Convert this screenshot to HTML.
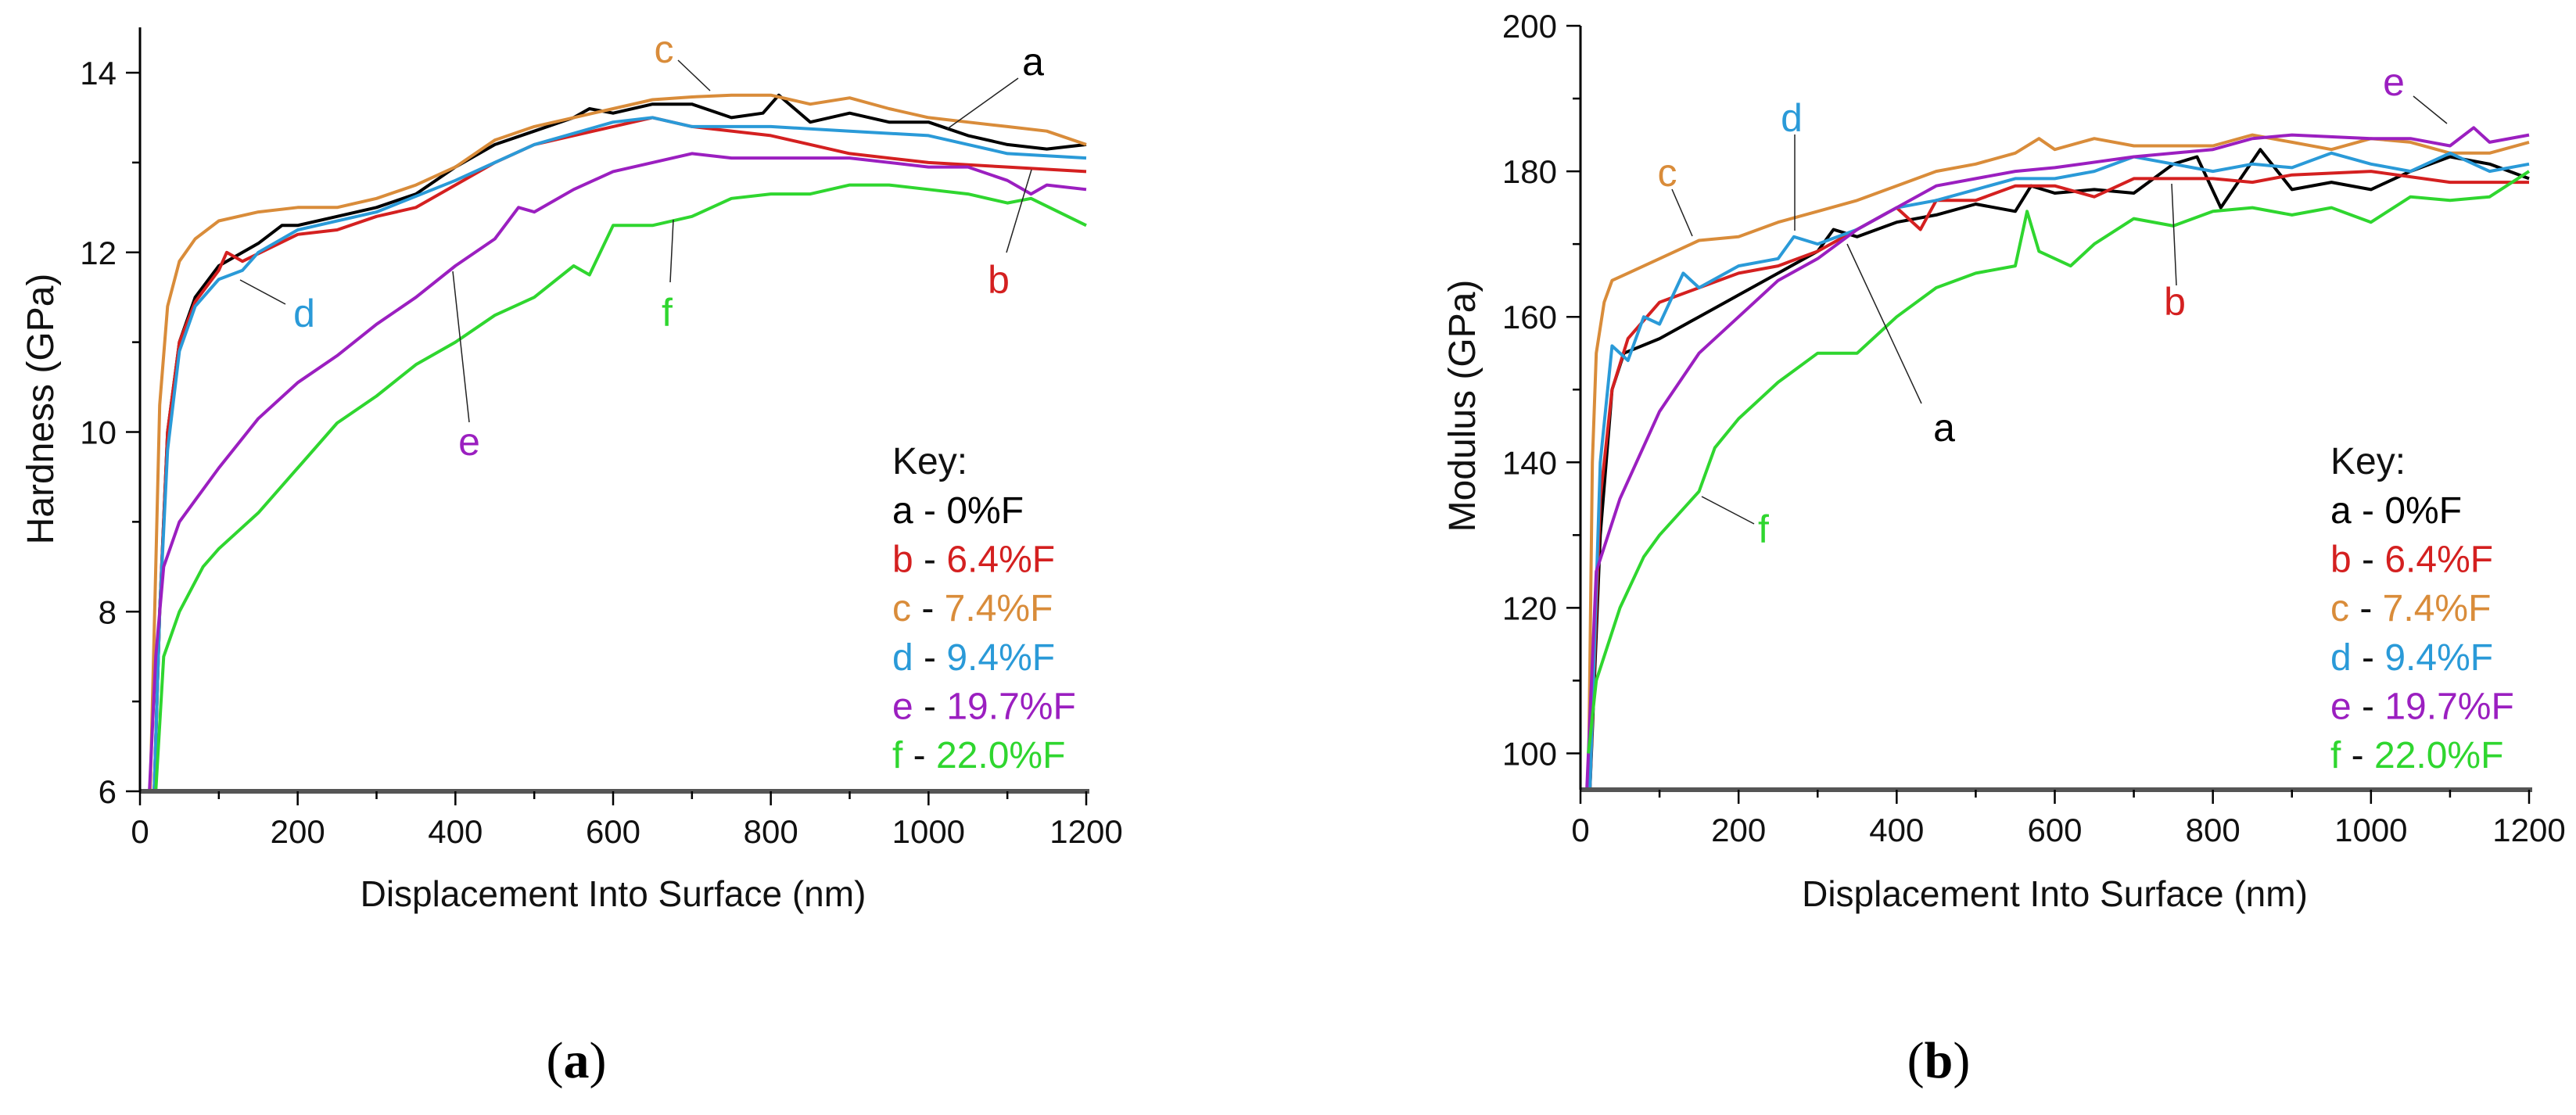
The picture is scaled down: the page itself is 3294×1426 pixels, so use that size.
<!DOCTYPE html>
<html><head><meta charset="utf-8"><style>
html,body{margin:0;padding:0;background:#fff;}
svg{display:block;font-family:"Liberation Sans",Arial,sans-serif;}
</style></head><body>
<svg id="fig" width="3294" height="1426" viewBox="0 0 3294 1426" xmlns="http://www.w3.org/2000/svg">
<rect width="3294" height="1426" fill="#fff"/>
<g id="chartA"></g>
<g id="chartB"></g>
<text x="737" y="1378" font-family="Liberation Serif,serif" font-size="66" text-anchor="middle">(<tspan font-weight="bold">a</tspan>)</text>
<text x="2479" y="1378" font-family="Liberation Serif,serif" font-size="66" text-anchor="middle">(<tspan font-weight="bold">b</tspan>)</text>
</svg>
<script>
const seriesNames = ['a','b','c','d','e','f'];
const seriesColors = ['#000000','#d42020','#d98c3a','#2a9ad8','#9b1fc0','#2fd62f'];
const legendLabels = ['a - 0%F','b - 6.4%F','c - 7.4%F','d - 9.4%F','e - 19.7%F','f - 22.0%F'];
const legendValues = ['0%F','6.4%F','7.4%F','9.4%F','19.7%F','22.0%F'];
const xTicks = [0,200,400,600,800,1000,1200];
const hTicks = [6,8,10,12,14];
const mTicks = [100,120,140,160,180,200];

const hA = [[18,6],[25,8],[35,10],[50,11],[70,11.5],[100,11.85],[150,12.1],[180,12.3],[200,12.3],[250,12.4],[300,12.5],[350,12.65],[400,12.95],[450,13.2],[500,13.35],[550,13.5],[570,13.6],[600,13.55],[650,13.65],[700,13.65],[750,13.5],[790,13.55],[810,13.75],[850,13.45],[900,13.55],[950,13.45],[1000,13.45],[1050,13.3],[1100,13.2],[1150,13.15],[1200,13.2]];
const hB = [[18,6],[25,8],[35,10],[50,11],[70,11.45],[100,11.8],[110,12.0],[130,11.9],[200,12.2],[250,12.25],[300,12.4],[350,12.5],[400,12.75],[450,13.0],[500,13.2],[550,13.3],[600,13.4],[650,13.5],[700,13.4],[800,13.3],[900,13.1],[1000,13.0],[1100,12.95],[1200,12.9]];
const hC = [[13,6],[20,8.5],[25,10.3],[35,11.4],[50,11.9],[70,12.15],[100,12.35],[150,12.45],[200,12.5],[250,12.5],[300,12.6],[350,12.75],[400,12.95],[450,13.25],[500,13.4],[550,13.5],[600,13.6],[650,13.7],[700,13.73],[750,13.75],[800,13.75],[850,13.65],[900,13.72],[950,13.6],[1000,13.5],[1050,13.45],[1100,13.4],[1150,13.35],[1200,13.2]];
const hD = [[18,6],[25,8],[35,9.8],[50,10.9],[70,11.4],[100,11.7],[130,11.8],[150,12.0],[200,12.25],[300,12.45],[400,12.8],[500,13.2],[600,13.45],[650,13.5],[700,13.4],[800,13.4],[900,13.35],[1000,13.3],[1100,13.1],[1200,13.05]];
const hE = [[12,6],[20,7.5],[30,8.5],[50,9.0],[75,9.3],[100,9.6],[150,10.15],[200,10.55],[250,10.85],[300,11.2],[350,11.5],[400,11.85],[450,12.15],[480,12.5],[500,12.45],[550,12.7],[600,12.9],[650,13.0],[700,13.1],[750,13.05],[800,13.05],[900,13.05],[1000,12.95],[1050,12.95],[1100,12.8],[1130,12.65],[1150,12.75],[1200,12.7]];
const hF = [[20,6],[30,7.5],[50,8.0],[80,8.5],[100,8.7],[150,9.1],[200,9.6],[250,10.1],[300,10.4],[350,10.75],[400,11.0],[450,11.3],[500,11.5],[550,11.85],[570,11.75],[600,12.3],[650,12.3],[700,12.4],[750,12.6],[800,12.65],[850,12.65],[900,12.75],[950,12.75],[1000,12.7],[1050,12.65],[1100,12.55],[1130,12.6],[1200,12.3]];

const mA = [[12,95],[25,130],[40,150],[55,155],[100,157],[150,160],[200,163],[250,166],[300,169],[320,172],[350,171],[400,173],[450,174],[500,175.5],[550,174.5],[570,178],[600,177],[650,177.5],[700,177],[750,181],[780,182],[810,175],[860,183],[900,177.5],[950,178.5],[1000,177.5],[1050,180],[1100,182],[1150,181],[1200,179]];
const mB = [[12,95],[25,135],[40,150],[60,157],[100,162],[150,164],[200,166],[250,167],[300,169],[350,172],[400,175],[430,172],[450,176],[500,176],[550,178],[600,178],[650,176.5],[700,179],[800,179],[850,178.5],[900,179.5],[1000,180],[1100,178.5],[1200,178.5]];
const mC = [[10,95],[15,140],[20,155],[30,162],[40,165],[60,166],[100,168],[150,170.5],[200,171],[250,173],[300,174.5],[350,176],[400,178],[450,180],[500,181],[550,182.5],[580,184.5],[600,183],[650,184.5],[700,183.5],[800,183.5],[850,185],[900,184],[950,183],[1000,184.5],[1050,184],[1100,182.5],[1150,182.5],[1200,184]];
const mD = [[12,95],[25,140],[40,156],[60,154],[80,160],[100,159],[130,166],[150,164],[200,167],[250,168],[270,171],[300,170],[350,172],[400,175],[450,176],[500,177.5],[550,179],[600,179],[650,180],[700,182],[750,181],[800,180],[850,181],[900,180.5],[950,182.5],[1000,181],[1050,180],[1100,182.5],[1150,180],[1200,181]];
const mE = [[8,95],[20,125],[50,135],[100,147],[150,155],[200,160],[250,165],[300,168],[350,172],[400,175],[450,178],[500,179],[550,180],[600,180.5],[700,182],[800,183],[850,184.5],[900,185],[1000,184.5],[1050,184.5],[1100,183.5],[1130,186],[1150,184],[1200,185]];
const mF = [[10,100],[20,110],[50,120],[80,127],[100,130],[150,136],[170,142],[200,146],[250,151],[300,155],[350,155],[400,160],[450,164],[500,166],[550,167],[565,174.5],[580,169],[620,167],[650,170],[700,173.5],[750,172.5],[800,174.5],[850,175],[900,174],[950,175],[1000,173],[1050,176.5],[1100,176],[1150,176.5],[1200,180]];

const NS='http://www.w3.org/2000/svg';
function mk(tag, attrs, parent){const e=document.createElementNS(NS,tag);for(const k in attrs)e.setAttribute(k,attrs[k]);parent.appendChild(e);return e;}

function drawChart(g, cfg){
  const xS = v => cfg.x0 + (v - 0)/1200*(cfg.x1-cfg.x0);
  const yS = v => cfg.yb - (v - cfg.ymin)/(cfg.ymax-cfg.ymin)*(cfg.yb-cfg.yt);
  cfg.series.forEach((s,i)=>{
    const d = s.map((p,j)=>(j?'L':'M')+xS(p[0]).toFixed(1)+','+yS(Math.max(p[1],cfg.ymin)).toFixed(1)).join(' ');
    const p = mk('path',{d:d,fill:'none',stroke:seriesColors[i],'stroke-width':4,'stroke-linejoin':'round'},g);
    
    
  });
  const ax = mk('line',{x1:cfg.x0,y1:cfg.yb,x2:cfg.x1+4,y2:cfg.yb,stroke:'#555'},g);
  ax.setAttribute('stroke-width','6');
  
  
  const ay = mk('line',{x1:cfg.x0,y1:cfg.yb,x2:cfg.x0,y2:cfg.axTop,stroke:'#000'},g);
  ay.setAttribute('stroke-width','3');
  
  
  for(let v=0; v<=1200; v+=100){
    const major = v%200===0;
    const t = mk('line',{x1:xS(v),x2:xS(v),y1:cfg.yb,y2:cfg.yb+(major?18:10),stroke:'#000','stroke-width':2.5},g);
    
    
  }
  xTicks.forEach(v=>{
    const t = mk('text',{x:xS(v),y:cfg.yb+66,'font-size':42,'text-anchor':'middle',fill:'#111'},g);
    t.textContent = v;
    
    
  });
  for(let v=cfg.ymin0; v<=cfg.ymax0; v+=cfg.minor){
    const major = Math.abs((v-cfg.ymin0)%cfg.major)<1e-6;
    const t = mk('line',{x1:cfg.x0-(major?18:10),x2:cfg.x0,y1:yS(v),y2:yS(v),stroke:'#000','stroke-width':2.5},g);
    
    
  }
  cfg.ticks.forEach(v=>{
    const t = mk('text',{x:cfg.x0-30,y:yS(v)+15,'font-size':42,'text-anchor':'end',fill:'#111'},g);
    t.textContent = v;
    
    
  });
  const xt = mk('text',{x:(cfg.x0+cfg.x1)/2,y:1159,'font-size':46,'text-anchor':'middle',fill:'#111'},g);
  xt.textContent='Displacement Into Surface (nm)';
  
  
  const yt = mk('text',{x:0,y:0,'font-size':48,'text-anchor':'middle',fill:'#111',transform:'translate('+cfg.ytx+','+cfg.yty+') rotate(-90)'},g);
  yt.textContent=cfg.ytitle;
  
  
  cfg.ann.forEach((a,i)=>{
    const l = mk('line',{x1:a[3],y1:a[4],x2:a[5],y2:a[6],stroke:'#222','stroke-width':1.5},g);
    
    
    const t = mk('text',{x:a[1],y:a[2]+17,'font-size':50,'text-anchor':'middle',fill:seriesColors[seriesNames.indexOf(a[0])]},g);
    t.textContent=a[0];
    
    
  });
  const kt = mk('text',{x:cfg.lx,y:589+17,'font-size':48,fill:'#111'},g);
  kt.textContent='Key:';
  
  
  legendLabels.forEach((lab,i)=>{
    const t = mk('text',{x:cfg.lx,y:652+i*62.6+17,'font-size':48,fill:seriesColors[i]},g);
    const ts1 = mk('tspan',{},t); ts1.textContent = seriesNames[i]+' ';
    const ts2 = mk('tspan',{fill:'#111'},t); ts2.textContent='- ';
    const ts3 = mk('tspan',{},t); ts3.textContent = legendValues[i];
    
    
  });
}

drawChart(document.getElementById('chartA'),{
  x0:179,x1:1389,yb:1012,yt:93,ymin:6,ymax:14,ymin0:6,ymax0:14,axTop:35,major:2,minor:1,
  ticks:hTicks,ytitle:'Hardness (GPa)',ytx:68,yty:523,lx:1141,
  series:[hA,hB,hC,hD,hE,hF],
  ann:[['c',849,63,867,77,908,116],['a',1321,79,1302,100,1211,165],['b',1277,358,1287,323,1319,217],
       ['d',389,401,365,389,307,358],['e',600,565,600,540,579,347],['f',853,400,857,361,861,281]]
});
drawChart(document.getElementById('chartB'),{
  x0:2021,x1:3234,yb:1010,yt:33,ymin:95,ymax:200,ymin0:100,ymax0:200,axTop:33,major:20,minor:10,
  ticks:mTicks,ytitle:'Modulus (GPa)',ytx:1886,yty:519,lx:2980,
  series:[mA,mB,mC,mD,mE,mF],
  ann:[['e',3061,105,3086,123,3129,158],['d',2291,151,2295,172,2295,295],['c',2132,221,2138,242,2164,302],
       ['b',2781,386,2783,365,2777,235],['a',2486,547,2457,516,2362,312],['f',2255,677,2243,670,2176,635]]
});
</script>
</body></html>
